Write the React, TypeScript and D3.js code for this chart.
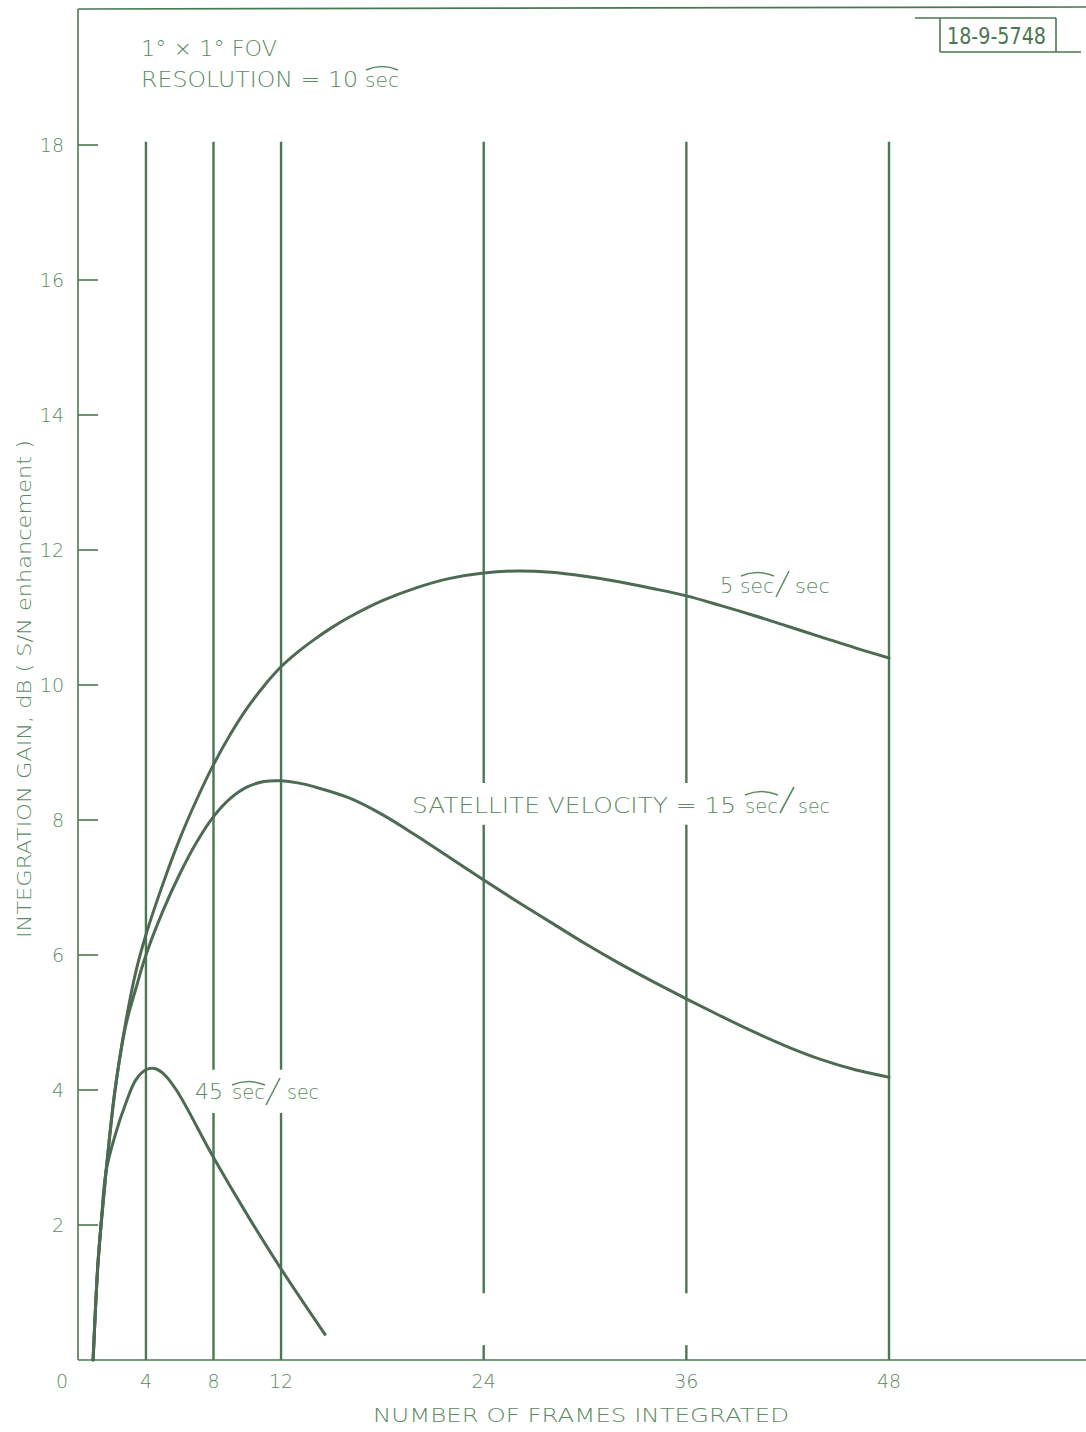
import React from "react";
import * as d3 from "d3";

// ---- data ----
const frameTicks = [4, 8, 12, 24, 36, 48];
const gainTicks = [2, 4, 6, 8, 10, 12, 14, 16, 18];

// [frames, gain dB]
const series5: [number, number][] = [
  [0.87, 0], [1.0, 0.7], [1.15, 1.4], [1.34, 2], [1.64, 2.8], [2.17, 4], [2.8, 5.0],
  [3.4, 5.75], [4, 6.3], [5, 7.05], [6, 7.72], [7, 8.3], [8, 8.82], [9, 9.27], [10, 9.66],
  [11, 9.99], [12, 10.27], [13, 10.49], [14, 10.68], [15, 10.85], [16, 11.0], [18, 11.25],
  [20, 11.44], [22, 11.58], [24, 11.66], [26, 11.69], [28, 11.67], [30, 11.61], [32, 11.53],
  [34, 11.43], [36, 11.32], [38, 11.18], [40, 11.03], [42, 10.87], [44, 10.71], [46, 10.55],
  [48, 10.4],
];
const series15: [number, number][] = [
  [0.87, 0], [1.0, 0.7], [1.15, 1.4], [1.34, 2], [1.64, 2.8], [2.17, 4], [2.8, 4.95],
  [3.4, 5.5], [4, 6.0], [5, 6.65], [6, 7.2], [7, 7.67], [8, 8.05], [9, 8.32], [10, 8.49],
  [11, 8.57], [12, 8.58], [13, 8.55], [14, 8.49], [16, 8.33], [18, 8.08], [20, 7.77],
  [22, 7.44], [24, 7.11], [26, 6.79], [28, 6.48], [30, 6.17], [32, 5.88], [34, 5.61],
  [36, 5.35], [38, 5.1], [40, 4.86], [42, 4.64], [44, 4.45], [46, 4.3], [48, 4.19],
];
const series45: [number, number][] = [
  [0.87, 0], [1.0, 0.7], [1.15, 1.4], [1.34, 2], [1.64, 2.8], [2.2, 3.35], [2.8, 3.8],
  [3.4, 4.15], [4, 4.3], [4.5, 4.32], [5, 4.25], [5.8, 4.0], [8, 3.0], [10, 2.15],
  [12, 1.35], [14.6, 0.38],
];

// vertical reference lines: frame, and gain intervals where they are drawn
const gridSegments: [number, number, number][] = [
  [4, 0, 18.05],
  [8, 0, 3.66], [8, 4.3, 18.05],
  [12, 0, 3.66], [12, 4.3, 18.05],
  [24, 0, 0.22], [24, 0.99, 7.93], [24, 8.55, 18.05],
  [36, 0, 0.22], [36, 0.99, 7.93], [36, 8.55, 18.05],
  [48, 0, 18.05],
];

const W = 1086;
const H = 1432;
const LINE = "#4a7852";
const CURVE = "#4c6b52";
const TEXT = "#5b8b62";
const FONT = "'DejaVu Sans', 'Open Sans', sans-serif";

export default function App() {
  const x = d3.scaleLinear().domain([0, 48]).range([78.4, 889]);
  const y = d3.scaleLinear().domain([0, 18]).range([1360, 145]);
  const line = d3
    .line<[number, number]>()
    .x((d) => x(d[0]))
    .y((d) => y(d[1]))
    .curve(d3.curveCatmullRom.alpha(0.5));

  const arc = (x0: number, x1: number, yy: number) =>
    `M${x0},${yy + 3} Q${(x0 + x1) / 2},${yy - 4} ${x1},${yy + 3}`;

  const fw = 300;

  return (
    <svg
      width={W}
      height={H}
      style={{ position: "absolute", left: 0, top: 0, background: "#fff" }}
      fontFamily={FONT}
    >
      <rect width={W} height={H} fill="#fff" />
      {/* frame */}
      <line x1={78} y1={9} x2={1086} y2={7} stroke={LINE} strokeWidth={1.6} />
      <line x1={78} y1={9} x2={78} y2={1360} stroke={LINE} strokeWidth={1.6} />
      <line x1={78} y1={1360} x2={1086} y2={1360} stroke={LINE} strokeWidth={1.6} />

      {/* figure number box */}
      <line x1={915} y1={18} x2={1056} y2={18} stroke={LINE} strokeWidth={1.6} />
      <line x1={940} y1={18} x2={940} y2={52} stroke={LINE} strokeWidth={1.6} />
      <line x1={1056} y1={18} x2={1056} y2={52} stroke={LINE} strokeWidth={1.6} />
      <line x1={940} y1={52} x2={1081} y2={52} stroke={LINE} strokeWidth={1.6} />
      <text
        x={947}
        y={44}
        fontSize={23}
        fill={LINE}
        fontFamily="'DejaVu Sans Condensed', 'Liberation Sans Narrow', sans-serif"
        textLength={99}
        lengthAdjust="spacingAndGlyphs"
      >
        18-9-5748
      </text>

      {/* y ticks */}
      {gainTicks.map((t) => (
        <g key={t}>
          <line x1={78} x2={98} y1={y(t)} y2={y(t)} stroke={LINE} strokeWidth={1.6} />
          <text x={64} y={y(t) + 7} textAnchor="end" fontSize={19} fill={TEXT} fontWeight={fw}>
            {t}
          </text>
        </g>
      ))}
      <text x={62} y={1388} textAnchor="middle" fontSize={19} fill={TEXT} fontWeight={fw}>
        0
      </text>

      {/* x tick labels */}
      {frameTicks.map((t) => (
        <text key={t} x={x(t)} y={1388} textAnchor="middle" fontSize={19} fill={TEXT} fontWeight={fw}>
          {t}
        </text>
      ))}

      {/* vertical reference lines */}
      {gridSegments.map(([f, a, b], i) => (
        <line key={i} x1={x(f)} x2={x(f)} y1={y(a)} y2={y(b)} stroke={LINE} strokeWidth={2.4} />
      ))}

      {/* curves */}
      {[series5, series15, series45].map((s, i) => (
        <path key={i} d={line(s) || ""} fill="none" stroke={CURVE} strokeWidth={3} strokeLinecap="round" />
      ))}

      {/* axis titles */}
      <text x={373} y={1422} fontSize={20} fill={TEXT} fontWeight={fw} textLength={416} lengthAdjust="spacingAndGlyphs">
        NUMBER OF FRAMES  INTEGRATED
      </text>
      <text
        transform="translate(31,938) rotate(-90)"
        fontSize={20}
        fill={TEXT}
        fontWeight={fw}
        textLength={498}
        lengthAdjust="spacingAndGlyphs"
      >
        INTEGRATION GAIN, dB ( S/N enhancement )
      </text>

      {/* header notes */}
      <text x={141} y={56} fontSize={21} fill={TEXT} fontWeight={fw} textLength={136} lengthAdjust="spacingAndGlyphs">
        1° × 1° FOV
      </text>
      <text x={141} y={87} fontSize={21} fill={TEXT} fontWeight={fw} textLength={217} lengthAdjust="spacingAndGlyphs">
        RESOLUTION = 10
      </text>
      <text x={365} y={87} fontSize={20} fill={TEXT} fontWeight={fw} textLength={34} lengthAdjust="spacingAndGlyphs">
        sec
      </text>
      <path d={arc(366, 398, 67)} fill="none" stroke={TEXT} strokeWidth={1.5} />

      {/* 5 sec/sec */}
      <text x={720} y={593} fontSize={21} fill={TEXT} fontWeight={fw}>5</text>
      <text x={740} y={593} fontSize={20} fill={TEXT} fontWeight={fw} textLength={34} lengthAdjust="spacingAndGlyphs">sec</text>
      <path d={arc(741, 774, 573)} fill="none" stroke={TEXT} strokeWidth={1.5} />
      <line x1={789} y1={571} x2={776} y2={597} stroke={TEXT} strokeWidth={1.6} />
      <text x={795} y={593} fontSize={20} fill={TEXT} fontWeight={fw} textLength={35} lengthAdjust="spacingAndGlyphs">sec</text>

      {/* satellite velocity 15 */}
      <text x={412} y={813} fontSize={21} fill={TEXT} fontWeight={fw} textLength={324} lengthAdjust="spacingAndGlyphs">
        SATELLITE VELOCITY = 15
      </text>
      <text x={745} y={813} fontSize={20} fill={TEXT} fontWeight={fw} textLength={33} lengthAdjust="spacingAndGlyphs">sec</text>
      <path d={arc(745, 778, 792)} fill="none" stroke={TEXT} strokeWidth={1.5} />
      <line x1={794} y1={787} x2={780} y2={813} stroke={TEXT} strokeWidth={1.6} />
      <text x={798} y={813} fontSize={20} fill={TEXT} fontWeight={fw} textLength={32} lengthAdjust="spacingAndGlyphs">sec</text>

      {/* 45 sec/sec */}
      <text x={195} y={1099} fontSize={21} fill={TEXT} fontWeight={fw} textLength={28} lengthAdjust="spacingAndGlyphs">45</text>
      <text x={232} y={1099} fontSize={20} fill={TEXT} fontWeight={fw} textLength={33} lengthAdjust="spacingAndGlyphs">sec</text>
      <path d={arc(232, 265, 1082)} fill="none" stroke={TEXT} strokeWidth={1.5} />
      <line x1={280} y1={1078} x2={266} y2={1105} stroke={TEXT} strokeWidth={1.6} />
      <text x={287} y={1099} fontSize={20} fill={TEXT} fontWeight={fw} textLength={32} lengthAdjust="spacingAndGlyphs">sec</text>
    </svg>
  );
}
